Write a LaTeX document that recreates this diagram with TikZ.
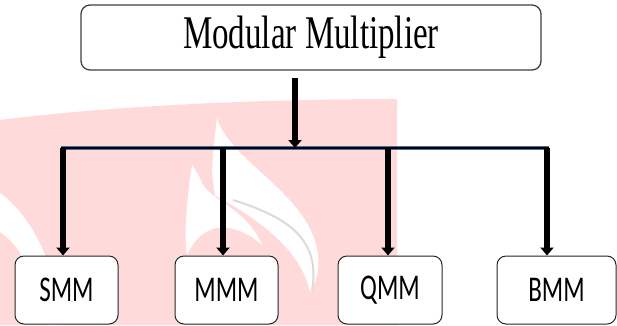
\documentclass[tikz,border=0pt]{standalone}
\usepackage{fontspec}
\usepackage{graphicx}
\setmainfont{Liberation Serif}
\newfontfamily\leaffont{Carlito}
\usetikzlibrary{arrows.meta}
\definecolor{wmpink}{RGB}{255,218,218}
\definecolor{wmgray}{RGB}{222,218,218}
\definecolor{busblue}{RGB}{72,112,165}
\tikzset{
  topbox/.style = {draw=black!75, line width=1.3pt, rounded corners=9pt, fill=white,
    minimum width=460pt, minimum height=65pt, inner sep=0pt},
  leafbox/.style = {draw=black!85, line width=1pt, rounded corners=9pt, fill=white,
    minimum height=68pt, inner sep=0pt},
  fatarrow/.style = {-{Triangle[width=13pt,length=8pt]}, line width=5.5pt}
}
\begin{document}
\begin{tikzpicture}[x = 1pt, y = -1pt]
    \useasboundingbox (0,0) rectangle (617,325);
    \fill [wmpink] (0,120) .. controls (100,107) and (250,99) .. (397,99) -- (397,325) -- (0,325) -- cycle;
    \fill [white] (0,193) .. controls (30,215) and (55,260) .. (62,325) -- (48,325) .. controls (40,280) and (20,245) .. (0,232) -- cycle;
    \fill [white] (217,118) .. controls (230,165) and (325,200) .. (318,270) .. controls (316,280) .. (310,292)
      .. controls (300,245) and (250,215) .. (215,195) .. controls (211,170) .. cycle;
    \draw [wmgray, line width=2pt] (233,200) .. controls (280,215) and (322,235) .. (312,290);
    \fill [white] (192,165) .. controls (186,205) and (184,235) .. (187,255) .. controls (205,215) and (240,225) .. (262,245)
      .. controls (245,205) and (205,200) .. (200,178) -- cycle;

    \node [topbox] (mm) at (311,37.5) {\fontsize{33}{36}\selectfont\scalebox{1}[1.42]{Modular Multiplier}};
    \node [leafbox, minimum width=103pt] (smm) at (66.5,290) {\leaffont\fontsize{25}{28}\selectfont\scalebox{1}[1.45]{SMM}};
    \node [leafbox, minimum width=103pt] (mmm) at (226.5,290) {\leaffont\fontsize{25}{28}\selectfont\scalebox{1}[1.45]{MMM}};
    \node [leafbox, minimum width=104pt] (qmm) at (390,290) {\leaffont\fontsize{25}{28}\selectfont\scalebox{1}[1.45]{QMM}};
    \node [leafbox, minimum width=119pt] (bmm) at (556.5,290) {\leaffont\fontsize{25}{28}\selectfont\scalebox{1}[1.45]{BMM}};

    \coordinate (busl) at (61,148);
    \coordinate (busr) at (549,148);
    \coordinate (tap) at (295,148);
    \coordinate (t1) at (63,148);
    \coordinate (t2) at (223,148);
    \coordinate (t3) at (388,148);
    \coordinate (t4) at (547,148);

    \draw [busblue, line width=3.2pt] (busl) -- (busr);
    \draw [black, line width=1.4pt] (busl) -- (busr);
    \draw [fatarrow] ([yshift=-7pt]mm.south -| tap) -- (tap);
    \draw [fatarrow] (t1) -- (t1 |- smm.north);
    \draw [fatarrow] (t2) -- (t2 |- mmm.north);
    \draw [fatarrow] (t3) -- (t3 |- qmm.north);
    \draw [fatarrow] (t4) -- (t4 |- bmm.north);
\end{tikzpicture}
\end{document}
